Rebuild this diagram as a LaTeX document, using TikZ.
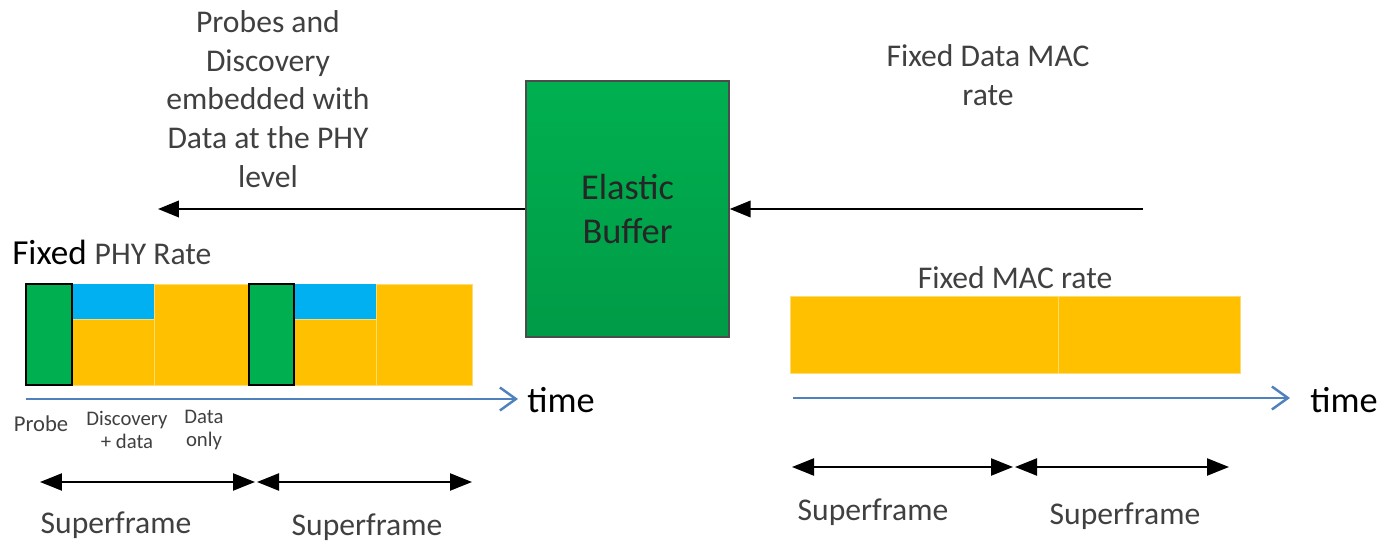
\documentclass[tikz,border=0pt]{standalone}
\usepackage{fontspec}
\setmainfont{Carlito}
\usetikzlibrary{arrows.meta}
\definecolor{bufgreen}{HTML}{00B050}
\definecolor{discblue}{HTML}{00B0F0}
\definecolor{dataorange}{HTML}{FFC000}
\definecolor{axisblue}{HTML}{4F81BD}
\definecolor{txtgray}{HTML}{404040}

\begin{document}
\begin{tikzpicture}[x=0.02cm,y=-0.02cm]

\tikzstyle{lbl}=[text=txtgray,font=\fontsize{18}{22.1}\selectfont,align=center,inner sep=0pt];
\tikzstyle{smalllbl}=[text=txtgray,font=\fontsize{11.8}{13}\selectfont,align=center,inner sep=0pt];
\tikzstyle{flow}=[-{Triangle[length=4.2mm,width=3.3mm]},line width=1.3pt];
\tikzstyle{sfarrow}=[{Triangle[length=4.4mm,width=3.4mm]}-{Triangle[length=4.4mm,width=3.4mm]},line width=1.3pt];
\tikzstyle{timeaxis}=[-{Straight Barb[length=3.2mm,width=4.6mm]},line width=1.4pt,axisblue];
\tikzstyle{probebox}=[fill=bufgreen,draw=black,line width=1.2pt];
\tikzstyle{seg}=[fill=dataorange,draw=dataorange!55!white,line width=0.4pt];
\tikzstyle{timelbl}=[anchor=west,font=\fontsize{20.7}{24}\selectfont,inner sep=0pt];

\useasboundingbox (0,0) rectangle (1385,543);

% buffer between PHY and MAC
\node[draw=gray!60!black,line width=0.8pt,top color=bufgreen,bottom color=bufgreen!88!black,
  minimum width=4.06cm,minimum height=5.12cm,text=black!85,
  font=\fontsize{20.7}{25}\selectfont,align=center] (buf) at (627.5,209) {Elastic\\Buffer};
\coordinate (outL) at (158,209);
\coordinate (inR) at (1143,209);
\draw[flow] (buf.west) -- (outL);
\draw[flow] (inR) -- (buf.east);

\node[lbl] (probes) at (268,99) {Probes and\\Discovery\\embedded with\\Data at the PHY\\level};
\node[lbl] (macin) at (988,75) {Fixed Data MAC\\rate};

% PHY side
\node[anchor=west,inner sep=0pt] (phy) at (12,252) {\fontsize{20}{24}\selectfont Fixed {\color{txtgray}\fontsize{18}{22}\selectfont PHY Rate}};

\filldraw[seg] (154,284) rectangle (249,385);
\filldraw[seg] (72,319) rectangle (154,385);
\fill[discblue] (72,284) rectangle (154,319);
\filldraw[seg] (376,284) rectangle (472,385);
\filldraw[seg] (294,319) rectangle (376,385);
\fill[discblue] (294,284) rectangle (376,319);
\filldraw[probebox] (26,284) rectangle (72,385);
\filldraw[probebox] (249,284) rectangle (294,385);

\coordinate (t1a) at (26,399);
\node[timelbl] (time1) at (527,400) {time};
\draw[timeaxis] (t1a) -- ([xshift=-9*0.02cm]t1a -| time1.west);

\node[smalllbl,font=\fontsize{12.9}{15}\selectfont] (lprobe) at (41,424) {Probe};
\node[smalllbl] (ldisc) at (127,430) {Discovery\\+ data};
\node[smalllbl] (lonly) at (204,430) {Data\\only};

\coordinate (s1a) at (40,482);
\coordinate (s1b) at (255,482);
\coordinate (s2a) at (257,482);
\coordinate (s2b) at (472,482);
\draw[sfarrow] (s1a) -- (s1b);
\draw[sfarrow] (s2a) -- (s2b);
\node[lbl] (sf1) at (116,525) {Superframe};
\node[lbl] (sf2) at (367,527) {Superframe};

% MAC side
\node[lbl] (macrate) at (1015,278) {Fixed MAC rate};
\filldraw[seg] (790,296) rectangle (1058,373);
\filldraw[seg] (1058,296) rectangle (1240,373);

\coordinate (t2a) at (793,398);
\node[timelbl] (time2) at (1310,400) {time};
\draw[timeaxis] (t2a) -- ([xshift=-20*0.02cm]t2a -| time2.west);

\coordinate (s3a) at (792,467);
\coordinate (s3b) at (1013,467);
\coordinate (s4a) at (1015,467);
\coordinate (s4b) at (1229,467);
\draw[sfarrow] (s3a) -- (s3b);
\draw[sfarrow] (s4a) -- (s4b);
\node[lbl] (sf3) at (873,512) {Superframe};
\node[lbl] (sf4) at (1125,516) {Superframe};

\end{tikzpicture}
\end{document}
